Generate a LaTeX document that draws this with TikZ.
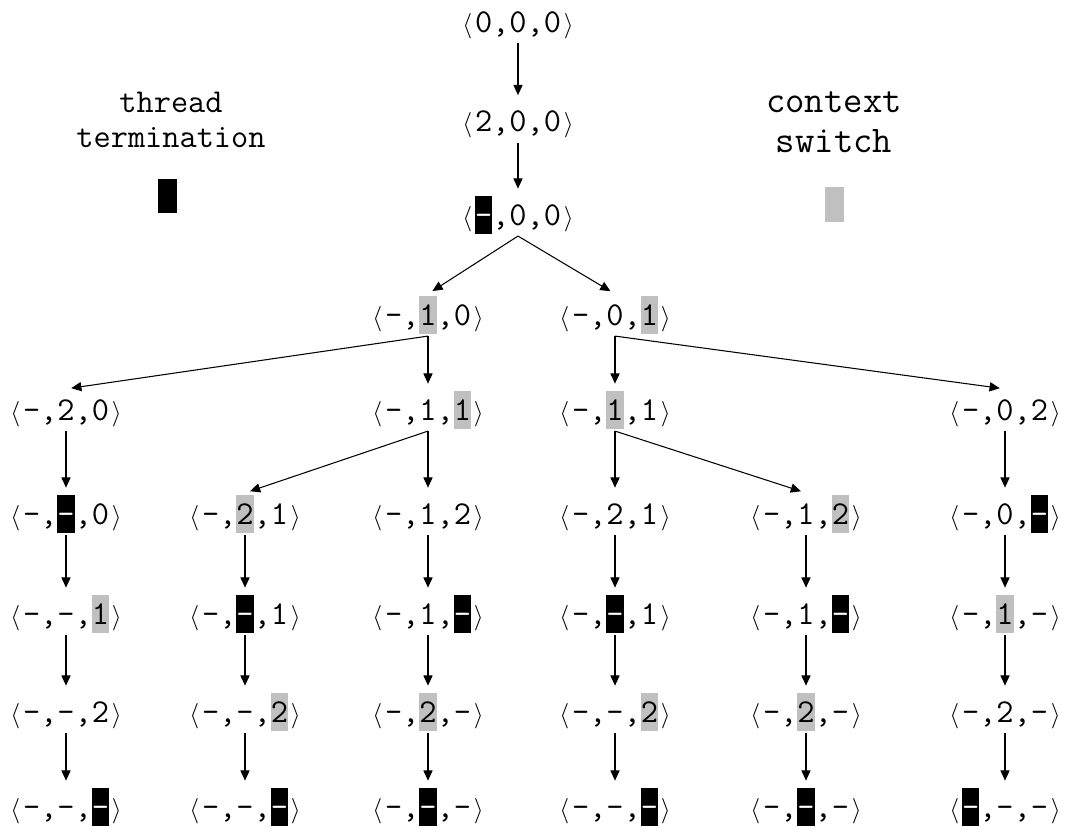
\documentclass[tikz,border=0pt]{standalone}
\usepackage{fontspec}
\usepackage{xcolor}
\usepackage{tikz}
\usetikzlibrary{arrows.meta, positioning}
\definecolor{ctxgray}{RGB}{192,192,192}

\newcommand\tuplefont{\ttfamily\fontsize{19pt}{22pt}\selectfont}
\newcommand\ltup{{\fontsize{15pt}{15pt}\selectfont$\langle$}\kern1.6pt}
\newcommand\rtup{\kern1.6pt{\fontsize{15pt}{15pt}\selectfont$\rangle$}}
\newcommand\tpl[3]{\ltup#1,#2,#3\rtup}
% context switch (gray) / thread termination (black)
\newcommand\ctx[1]{{\setlength{\fboxsep}{0pt}\colorbox{ctxgray}{\rule[-5.3pt]{0pt}{22pt}#1}}}
\newcommand\trm{{\setlength{\fboxsep}{0pt}\colorbox{black}{\rule[-5.3pt]{0pt}{22pt}\textcolor{white}{-}}}}

\begin{document}
\begin{tikzpicture}[
    %% Styles
    tup/.style={
      font=\tuplefont, inner sep=0pt,
      text height=16.7pt, text depth=5.3pt, outer sep=1pt
    },
    lbl/.style={
      font=\ttfamily\fontsize{19pt}{20pt}\selectfont,
      align=center, inner sep=0pt
    },
    biglbl/.style={
      font=\ttfamily\fontsize{21.4pt}{22.8pt}\selectfont,
      align=center, inner sep=0pt
    },
    keybox/.style={
      rectangle, inner sep=0pt,
      minimum width=0.38cm, minimum height=0.69cm
    },
    arrow/.style={-{Triangle[length=5.8pt,width=5.2pt]}, line width=0.6pt, shorten >=3pt}
  ]
  \useasboundingbox (0,0) rectangle (21.3,-16.64);

  %% ── Legend ─────────────────────────────────────────────
  \node[lbl] (termtxt) at (3.42,-2.39) {thread\\termination};
  \node[keybox, fill=black] (termkey) at (3.35,-3.92) {};

  \node[biglbl] (ctxtxt) at (16.68,-2.44) {context\\switch};
  \node[keybox, fill=ctxgray] (ctxkey) at (16.69,-4.09) {};

  %% ── Rows 0-2: single path  (x = 10.36) ──────────────────
  \node[tup] (n0) at (10.36,-0.44) {\tpl{0}{0}{0}};
  \node[tup] (n1) at (10.36,-2.43) {\tpl{2}{0}{0}};
  \node[tup] (n2) at (10.36,-4.30) {\tpl{\trm}{0}{0}};

  %% ── Row 3  (y = -6.3) ───────────────────────────────────
  \node[tup] (n3l) at (8.56,-6.30)  {\tpl{-}{\ctx{1}}{0}};
  \node[tup] (n3r) at (12.30,-6.30) {\tpl{-}{0}{\ctx{1}}};

  %% ── Row 4  (y = -8.2) ───────────────────────────────────
  \node[tup] (n4c1) at (1.32,-8.20)  {\tpl{-}{2}{0}};
  \node[tup] (n4c3) at (8.56,-8.20)  {\tpl{-}{1}{\ctx{1}}};
  \node[tup] (n4c4) at (12.30,-8.20) {\tpl{-}{\ctx{1}}{1}};
  \node[tup] (n4c6) at (20.10,-8.20) {\tpl{-}{0}{2}};

  %% ── Row 5  (y = -10.28) ─────────────────────────────────
  \node[tup] (n5c1) at (1.32,-10.28)  {\tpl{-}{\trm}{0}};
  \node[tup] (n5c2) at (4.90,-10.28)  {\tpl{-}{\ctx{2}}{1}};
  \node[tup] (n5c3) at (8.56,-10.28)  {\tpl{-}{1}{2}};
  \node[tup] (n5c4) at (12.30,-10.28) {\tpl{-}{2}{1}};
  \node[tup] (n5c5) at (16.12,-10.28) {\tpl{-}{1}{\ctx{2}}};
  \node[tup] (n5c6) at (20.10,-10.28) {\tpl{-}{0}{\trm}};

  %% ── Row 6  (y = -12.28) ─────────────────────────────────
  \node[tup] (n6c1) at (1.32,-12.28)  {\tpl{-}{-}{\ctx{1}}};
  \node[tup] (n6c2) at (4.90,-12.28)  {\tpl{-}{\trm}{1}};
  \node[tup] (n6c3) at (8.56,-12.28)  {\tpl{-}{1}{\trm}};
  \node[tup] (n6c4) at (12.30,-12.28) {\tpl{-}{\trm}{1}};
  \node[tup] (n6c5) at (16.12,-12.28) {\tpl{-}{1}{\trm}};
  \node[tup] (n6c6) at (20.10,-12.28) {\tpl{-}{\ctx{1}}{-}};

  %% ── Row 7  (y = -14.24) ─────────────────────────────────
  \node[tup] (n7c1) at (1.32,-14.24)  {\tpl{-}{-}{2}};
  \node[tup] (n7c2) at (4.90,-14.24)  {\tpl{-}{-}{\ctx{2}}};
  \node[tup] (n7c3) at (8.56,-14.24)  {\tpl{-}{\ctx{2}}{-}};
  \node[tup] (n7c4) at (12.30,-14.24) {\tpl{-}{-}{\ctx{2}}};
  \node[tup] (n7c5) at (16.12,-14.24) {\tpl{-}{\ctx{2}}{-}};
  \node[tup] (n7c6) at (20.10,-14.24) {\tpl{-}{2}{-}};

  %% ── Row 8  (y = -16.14) ─────────────────────────────────
  \node[tup] (n8c1) at (1.32,-16.14)  {\tpl{-}{-}{\trm}};
  \node[tup] (n8c2) at (4.90,-16.14)  {\tpl{-}{-}{\trm}};
  \node[tup] (n8c3) at (8.56,-16.14)  {\tpl{-}{\trm}{-}};
  \node[tup] (n8c4) at (12.30,-16.14) {\tpl{-}{-}{\trm}};
  \node[tup] (n8c5) at (16.12,-16.14) {\tpl{-}{\trm}{-}};
  \node[tup] (n8c6) at (20.10,-16.14) {\tpl{\trm}{-}{-}};

  %% ════════════════════════════════════════════════════════
  %% ── Arrows ──────────────────────────────────────────────
  %% ════════════════════════════════════════════════════════

  % top path
  \draw[arrow] (n0.south) -- (n1.north);
  \draw[arrow] (n1.south) -- (n2.north);

  % first split
  \draw[arrow] (n2.south) -- (n3l.north);
  \draw[arrow] (n2.south) -- (n3r.north);

  % second split
  \draw[arrow] (n3l.south) -- (n4c1.north);
  \draw[arrow] (n3l.south) -- (n4c3.north);
  \draw[arrow] (n3r.south) -- (n4c4.north);
  \draw[arrow] (n3r.south) -- (n4c6.north);

  % third split
  \draw[arrow] (n4c1.south) -- (n5c1.north);
  \draw[arrow] (n4c3.south) -- (n5c2.north);
  \draw[arrow] (n4c3.south) -- (n5c3.north);
  \draw[arrow] (n4c4.south) -- (n5c4.north);
  \draw[arrow] (n4c4.south) -- (n5c5.north);
  \draw[arrow] (n4c6.south) -- (n5c6.north);

  % chains down to the leaves
  \draw[arrow] (n5c1.south) -- (n6c1.north);
  \draw[arrow] (n5c2.south) -- (n6c2.north);
  \draw[arrow] (n5c3.south) -- (n6c3.north);
  \draw[arrow] (n5c4.south) -- (n6c4.north);
  \draw[arrow] (n5c5.south) -- (n6c5.north);
  \draw[arrow] (n5c6.south) -- (n6c6.north);

  \draw[arrow] (n6c1.south) -- (n7c1.north);
  \draw[arrow] (n6c2.south) -- (n7c2.north);
  \draw[arrow] (n6c3.south) -- (n7c3.north);
  \draw[arrow] (n6c4.south) -- (n7c4.north);
  \draw[arrow] (n6c5.south) -- (n7c5.north);
  \draw[arrow] (n6c6.south) -- (n7c6.north);

  \draw[arrow] (n7c1.south) -- (n8c1.north);
  \draw[arrow] (n7c2.south) -- (n8c2.north);
  \draw[arrow] (n7c3.south) -- (n8c3.north);
  \draw[arrow] (n7c4.south) -- (n8c4.north);
  \draw[arrow] (n7c5.south) -- (n8c5.north);
  \draw[arrow] (n7c6.south) -- (n8c6.north);

\end{tikzpicture}
\end{document}
